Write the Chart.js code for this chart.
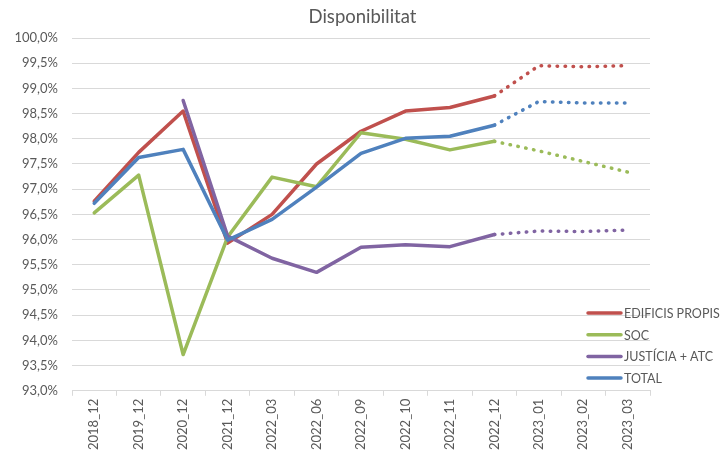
<!DOCTYPE html>
<html>
<head>
<meta charset="utf-8">
<script src="https://cdn.jsdelivr.net/npm/chart.js@4"></script>
<style>
  html, body { margin: 0; padding: 0; background: #fff; }
  #wrap { width: 725px; height: 453px; }
</style>
</head>
<body>
<div id="wrap"><canvas id="dispChart" width="725" height="453"></canvas></div>
<script>
// periodes
var labels = ["2018_12", "2019_12", "2020_12", "2021_12", "2022_03", "2022_06", "2022_09",
              "2022_10", "2022_11", "2022_12", "2023_01", "2023_02", "2023_03"];

// disponibilitat (%) per servei
var edificisPropis = [96.76, 97.73, 98.55, 95.93, 96.50, 97.50, 98.15, 98.55, 98.62, 98.85, 99.45, 99.43, 99.45];
var soc            = [96.53, 97.28, 93.72, 96.05, 97.24, 97.05, 98.12, 97.99, 97.78, 97.95, 97.76, 97.55, 97.34];
var justiciaAtc    = [null, null, 98.76, 96.07, 95.63, 95.35, 95.85, 95.90, 95.86, 96.10, 96.17, 96.16, 96.19];
var total          = [96.72, 97.63, 97.79, 95.99, 96.40, 97.04, 97.71, 98.01, 98.05, 98.27, 98.74, 98.71, 98.71];

// a partir d'aquest index la linia es de previsio (puntejada)
var forecastFrom = 9;

var yMin = 93, yMax = 100, yStep = 0.5;

var titleText = "Disponibilitat";
var textColor = "#595959";
var fontFamily = "Lato, 'Open Sans', sans-serif";

function serie(label, data, color, order) {
    return {
        label: label,
        data: data,
        borderColor: color,
        backgroundColor: color,
        borderWidth: 3.5,
        pointRadius: 0,
        pointHoverRadius: 0,
        tension: 0,
        order: order,
        borderCapStyle: "round",
        borderJoinStyle: "round",
        segment: {
            borderDash: function(c) { return c.p0DataIndex >= forecastFrom ? [0.5, 7.5] : undefined; }
        }
    };
}

// titol centrat a tot el llenc i llegenda a sobre de l'area del grafic (com a l'Excel)
var excelDecor = {
    id: "excelDecor",
    afterDraw: function(chart) {
        var c = chart.ctx;
        c.save();
        c.fillStyle = textColor;
        c.textAlign = "center";
        c.textBaseline = "middle";
        c.font = "18.5px " + fontFamily;
        c.fillText(titleText, chart.width / 2, 17);

        var x0 = 588, y0 = 313, gap = 21.7;
        c.textAlign = "left";
        c.font = "12.5px " + fontFamily;
        chart.data.datasets.forEach(function(ds, i) {
            var y = y0 + i * gap;
            c.strokeStyle = ds.borderColor;
            c.lineWidth = 3.5;
            c.lineCap = "round";
            c.beginPath();
            c.moveTo(x0, y);
            c.lineTo(x0 + 33, y);
            c.stroke();
            c.fillStyle = textColor;
            c.fillText(ds.label, x0 + 36, y + 1);
        });
        c.restore();
    }
};

var ctx = document.getElementById("dispChart").getContext("2d");
var dispChart = new Chart(ctx, {
    type: "line",
    data: {
        labels: labels,
        datasets: [
            serie("EDIFICIS PROPIS", edificisPropis, "#c0504d", 4),
            serie("SOC", soc, "#9bbb59", 3),
            serie("JUSTÍCIA + ATC", justiciaAtc, "#8064a2", 2),
            serie("TOTAL", total, "#4f81bd", 1)
        ]
    },
    options: {
        responsive: false,
        animation: false,
        layout: { padding: { left: 0, right: 75, top: 38, bottom: 0 } },
        plugins: {
            legend: { display: false },
            tooltip: { enabled: false },
            title: { display: false }
        },
        scales: {
            x: {
                offset: true,
                grid: { display: true, drawOnChartArea: false, offset: true, color: "#d9d9d9", tickLength: 5 },
                border: { color: "#d9d9d9" },
                ticks: {
                    color: textColor,
                    font: { family: fontFamily, size: 13 },
                    maxRotation: 90,
                    minRotation: 90,
                    autoSkip: false
                }
            },
            y: {
                min: yMin,
                max: yMax,
                grid: { color: "#d9d9d9", lineWidth: 1, drawTicks: false },
                border: { display: false },
                ticks: {
                    stepSize: yStep,
                    color: textColor,
                    padding: 14,
                    font: { family: fontFamily, size: 13 },
                    callback: function(v) { return v.toFixed(1).replace(".", ",") + "%"; }
                },
                afterFit: function(scale) { scale.width = 72; }
            }
        }
    },
    plugins: [excelDecor]
});
</script>
</body>
</html>
